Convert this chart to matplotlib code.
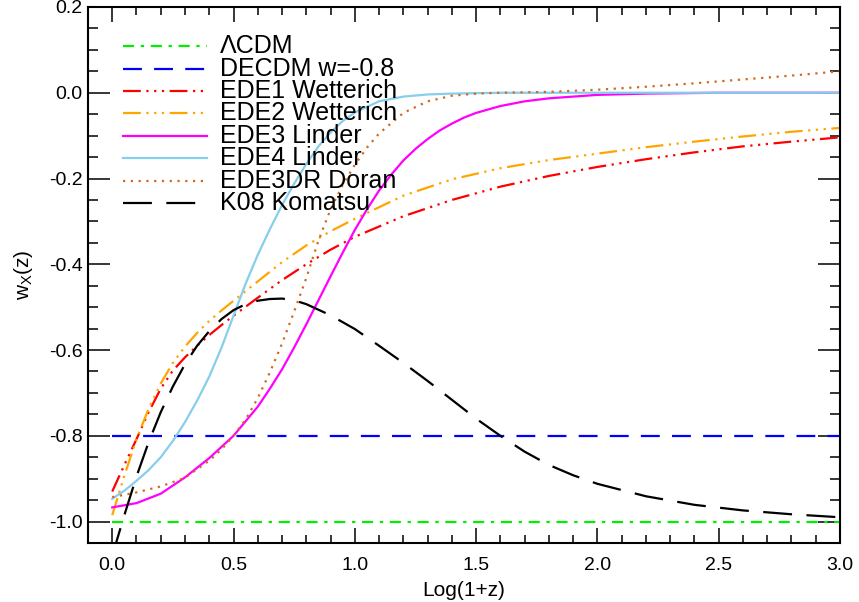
import numpy as np
import matplotlib.pyplot as plt

plt.rcParams['font.family'] = ['Liberation Sans', 'DejaVu Sans']
plt.rcParams['mathtext.default'] = 'regular'

# constant equations of state
w_lcdm = -1.0
w_decdm = -0.8
x_const = [0.0, 3.0]

# EDE1 Wetterich
x_ede1 = [0.0, 0.05, 0.1, 0.15, 0.2, 0.25, 0.3, 0.35, 0.4, 0.45, 0.5, 0.6, 0.7, 0.8, 0.9,
          1.0, 1.2, 1.4, 1.6, 1.8, 2.0, 2.2, 2.4, 2.6, 2.8, 3.0]
w_ede1 = [-0.930, -0.868, -0.808, -0.745, -0.690, -0.648, -0.617, -0.590, -0.565, -0.542,
          -0.520, -0.478, -0.437, -0.400, -0.366, -0.336, -0.288, -0.250, -0.219, -0.194,
          -0.173, -0.155, -0.139, -0.125, -0.114, -0.104]

# EDE2 Wetterich
x_ede2 = [0.0, 0.05, 0.1, 0.15, 0.2, 0.25, 0.3, 0.35, 0.4, 0.45, 0.5, 0.6, 0.7, 0.8, 0.9,
          1.0, 1.2, 1.4, 1.6, 1.8, 2.0, 2.2, 2.4, 2.6, 2.8, 3.0]
w_ede2 = [-0.985, -0.893, -0.808, -0.737, -0.678, -0.630, -0.592, -0.560, -0.532, -0.508,
          -0.485, -0.440, -0.395, -0.356, -0.323, -0.294, -0.240, -0.202, -0.176, -0.157,
          -0.142, -0.127, -0.114, -0.102, -0.091, -0.082]

# EDE3 Linder
x_ede3 = [0.0, 0.1, 0.2, 0.3, 0.4, 0.5, 0.6, 0.65, 0.7, 0.75, 0.8, 0.85, 0.9, 0.95, 1.0,
          1.05, 1.1, 1.15, 1.2, 1.25, 1.3, 1.35, 1.4, 1.45, 1.5, 1.6, 1.7, 1.8, 2.0,
          2.2, 2.5, 3.0]
w_ede3 = [-0.967, -0.957, -0.935, -0.897, -0.852, -0.800, -0.732, -0.690, -0.645, -0.594,
          -0.540, -0.484, -0.428, -0.373, -0.320, -0.272, -0.228, -0.191, -0.158, -0.131,
          -0.108, -0.088, -0.072, -0.058, -0.047, -0.031, -0.020, -0.013, -0.005, -0.002,
          0.0, 0.0]

# EDE4 Linder
x_ede4 = [0.0, 0.05, 0.1, 0.15, 0.2, 0.25, 0.3, 0.35, 0.4, 0.45, 0.5, 0.55, 0.6, 0.65,
          0.7, 0.75, 0.8, 0.85, 0.9, 0.95, 1.0, 1.1, 1.2, 1.3, 1.4, 1.6, 2.0, 3.0]
w_ede4 = [-0.947, -0.928, -0.905, -0.880, -0.850, -0.812, -0.768, -0.718, -0.662, -0.595,
          -0.520, -0.445, -0.378, -0.318, -0.262, -0.212, -0.166, -0.125, -0.093, -0.066,
          -0.046, -0.020, -0.009, -0.004, -0.002, 0.0, 0.0, 0.0]

# EDE3DR Doran
x_dr = [0.0, 0.1, 0.2, 0.3, 0.4, 0.45, 0.5, 0.55, 0.6, 0.65, 0.7, 0.75, 0.8, 0.85, 0.9,
        0.95, 1.0, 1.05, 1.1, 1.2, 1.3, 1.4, 1.5, 1.6, 1.8, 2.0, 2.2, 2.4, 2.6, 2.8, 3.0]
w_dr = [-0.943, -0.932, -0.918, -0.898, -0.858, -0.832, -0.800, -0.762, -0.712, -0.652,
        -0.585, -0.510, -0.432, -0.345, -0.272, -0.215, -0.168, -0.128, -0.095, -0.047,
        -0.020, -0.007, -0.002, 0.0, 0.002, 0.007, 0.014, 0.022, 0.031, 0.040, 0.050]

# K08 Komatsu
x_k08 = [0.0, 0.05, 0.1, 0.15, 0.2, 0.25, 0.3, 0.35, 0.4, 0.45, 0.5, 0.55, 0.6, 0.65,
         0.7, 0.75, 0.8, 0.9, 1.0, 1.1, 1.2, 1.3, 1.4, 1.5, 1.6, 1.7, 1.8, 1.9, 2.0,
         2.2, 2.4, 2.6, 2.8, 3.0]
w_k08 = [-1.08, -0.985, -0.895, -0.815, -0.745, -0.685, -0.633, -0.590, -0.556, -0.528,
         -0.507, -0.493, -0.485, -0.481, -0.480, -0.484, -0.493, -0.519, -0.551, -0.590,
         -0.630, -0.672, -0.716, -0.760, -0.800, -0.837, -0.868, -0.892, -0.912, -0.941,
         -0.961, -0.974, -0.983, -0.990]

labels = ['\u039bCDM', 'DECDM w=-0.8', 'EDE1 Wetterich', 'EDE2 Wetterich',
          'EDE3 Linder', 'EDE4 Linder', 'EDE3DR Doran', 'K08 Komatsu']

dash3dot = (0, (8, 2.5, 1, 2.5, 1, 2.5, 1, 2.5))
series = [
    (x_const, [w_lcdm, w_lcdm], '#00ee00', (0, (5, 3, 1.5, 3))),
    (x_const, [w_decdm, w_decdm], '#0000ff', (0, (8.5, 5.5))),
    (x_ede1, w_ede1, '#ff0000', dash3dot),
    (x_ede2, w_ede2, '#ffa500', dash3dot),
    (x_ede3, w_ede3, '#ff00ff', '-'),
    (x_ede4, w_ede4, '#87ceeb', '-'),
    (x_dr, w_dr, '#d2691e', (0, (1, 2.5))),
    (x_k08, w_k08, '#000000', (0, (13, 6.5))),
]

fig = plt.figure(figsize=(8.59, 6.02), dpi=100)
ax = fig.add_axes([0.1024, 0.098, 0.8755, 0.8904])

for x, w, c, ls in series:
    ax.plot(x, w, color=c, linestyle=ls, lw=1.6)

# legend drawn by hand: short sample line then label, tightly stacked
y0, dy = 0.927, 0.0418
for i, (lab, (x, w, c, ls)) in enumerate(zip(labels, series)):
    yy = y0 - i * dy
    ax.plot([0.0465, 0.158], [yy, yy], color=c, linestyle=ls, lw=1.6,
            transform=ax.transAxes)
    ax.text(0.1755, yy, lab, transform=ax.transAxes, fontsize=18, va='center', ha='left')

ax.set_xlim(-0.1, 3.0)
ax.set_ylim(-1.05, 0.2)
ax.set_xticks(np.round(np.arange(0, 3.01, 0.5), 2))
ax.set_xticks(np.round(np.arange(0, 3.01, 0.1), 2), minor=True)
ax.set_yticks(np.round(np.arange(-1.0, 0.21, 0.2), 2))
ax.set_yticks(np.round(np.arange(-1.05, 0.21, 0.05), 3), minor=True)
fmt = plt.FuncFormatter(lambda v, pos: '%.1f' % (round(v, 1) + 0.0))
ax.xaxis.set_major_formatter(fmt)
ax.yaxis.set_major_formatter(fmt)

ax.tick_params(axis='both', which='both', direction='in', top=True, right=True,
               width=1.1, labelsize=14)
ax.tick_params(axis='x', which='major', length=11, pad=10)
ax.tick_params(axis='x', which='minor', length=5.5)
ax.tick_params(axis='y', which='major', length=16, pad=4)
ax.tick_params(axis='y', which='minor', length=7)
for s in ax.spines.values():
    s.set_linewidth(1.5)

ax.set_xlabel('Log(1+z)', fontsize=15, labelpad=5)
ax.set_ylabel('w$_X$(z)', fontsize=15, labelpad=10)

fig.savefig('out.png', dpi=100)
